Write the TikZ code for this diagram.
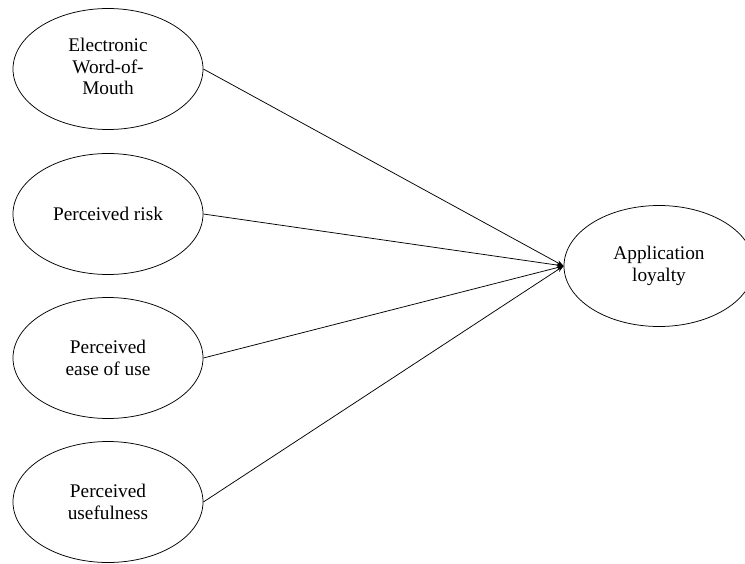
\documentclass[tikz,border=0pt]{standalone}
\usepackage{fontspec}
\setmainfont{Liberation Serif}
\usetikzlibrary{shapes.geometric,arrows.meta}
\begin{document}
\begin{tikzpicture}[x=1pt,y=-1pt,
  construct/.style={ellipse,draw,line width=0.75pt,minimum width=190pt,minimum height=121pt,inner sep=0pt,align=center,font=\fontsize{19.3}{21.5}\selectfont},
  link/.style={line width=0.75pt,-{Stealth[length=7pt,width=5pt]}}]
\useasboundingbox (0,0) rectangle (745,563);
\begin{scope}
\clip (0,0) rectangle (745,563);
\node[construct] (ewom) at (108,69) {\raisebox{-2pt}{\begin{tabular}{@{}c@{}}Electronic\\Word-of-\\Mouth\end{tabular}}};
\node[construct] (risk) at (108,214) {Perceived risk};
\node[construct] (ease) at (108,358) {Perceived\\ease of use};
\node[construct] (useful) at (108,502) {Perceived\\usefulness};
\node[construct] (loyal) at (659,266) {Application\\loyalty};
\end{scope}
\foreach \s in {ewom,risk,ease,useful}
  \draw[link] (\s.east) -- (loyal.west);
\end{tikzpicture}
\end{document}
